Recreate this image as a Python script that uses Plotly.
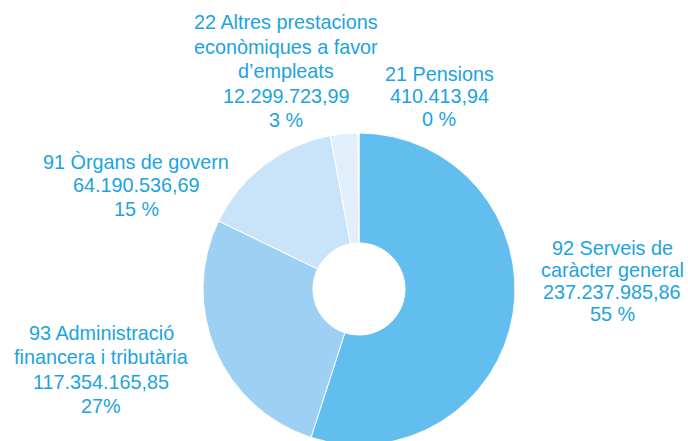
import plotly.graph_objects as go

# ---- data ----
categories = [
    "92 Serveis de caràcter general",
    "93 Administració financera i tributària",
    "91 Òrgans de govern",
    "22 Altres prestacions econòmiques a favor d’empleats",
    "21 Pensions",
]
label_lines = [
    ["92 Serveis de", "caràcter general"],
    ["93 Administració", "financera i tributària"],
    ["91 Òrgans de govern"],
    ["22 Altres prestacions", "econòmiques a favor", "d’empleats"],
    ["21 Pensions"],
]
values = [237237985.86, 117354165.85, 64190536.69, 12299723.99, 410413.94]
pct_labels = ["55 %", "27%", "15 %", "3 %", "0 %"]

slice_colors = ["#62BEEE", "#9DD0F2", "#C9E4F8", "#E1EFFB", "#EEF6FD"]
text_color = "#1CA3E0"
W, H = 688, 452  # page is clipped to 441 px; the donut runs off the bottom edge

CX, CY, R = 359, 289, 156


def fmt_ca(v):
    s = f"{v:,.2f}"
    return s.replace(",", "X").replace(".", ",").replace("X", ".")


fig = go.Figure()
fig.add_trace(go.Pie(
    labels=categories,
    values=values,
    sort=False,
    direction="clockwise",
    rotation=0,
    hole=0.295,
    textinfo="none",
    hoverinfo="label+value+percent",
    marker=dict(colors=slice_colors, line=dict(color="white", width=1)),
    domain=dict(x=[(CX - R) / W, (CX + R) / W], y=[(H - CY - R) / H, (H - CY + R) / H]),
    showlegend=False,
))

# label block positions (pixel centre x, list of line centre y)
label_pos = [
    (612, [248, 270, 292, 314]),
    (101, [333, 357, 382, 406]),
    (136, [162, 185, 209]),
    (286, [22, 47, 71, 96, 120]),
    (439, [74, 96, 119]),
]

annotations = []
for i in range(len(categories)):
    lines = label_lines[i] + [fmt_ca(values[i]), pct_labels[i]]
    cx, ys = label_pos[i]
    for line, y in zip(lines, ys):
        annotations.append(dict(
            text=line, x=cx / W, y=1 - y / H, xref="paper", yref="paper",
            xanchor="center", yanchor="middle", showarrow=False,
            font=dict(family="Liberation Sans, Arial, sans-serif", size=19.8, color=text_color),
        ))

fig.update_layout(
    width=W, height=H,
    margin=dict(l=0, r=0, t=0, b=0),
    paper_bgcolor="white",
    plot_bgcolor="white",
    annotations=annotations,
)

fig.write_html(
    "out.html",
    config={"displayModeBar": False},
    post_script="document.body.style.margin='0';document.body.style.overflow='hidden';",
)
